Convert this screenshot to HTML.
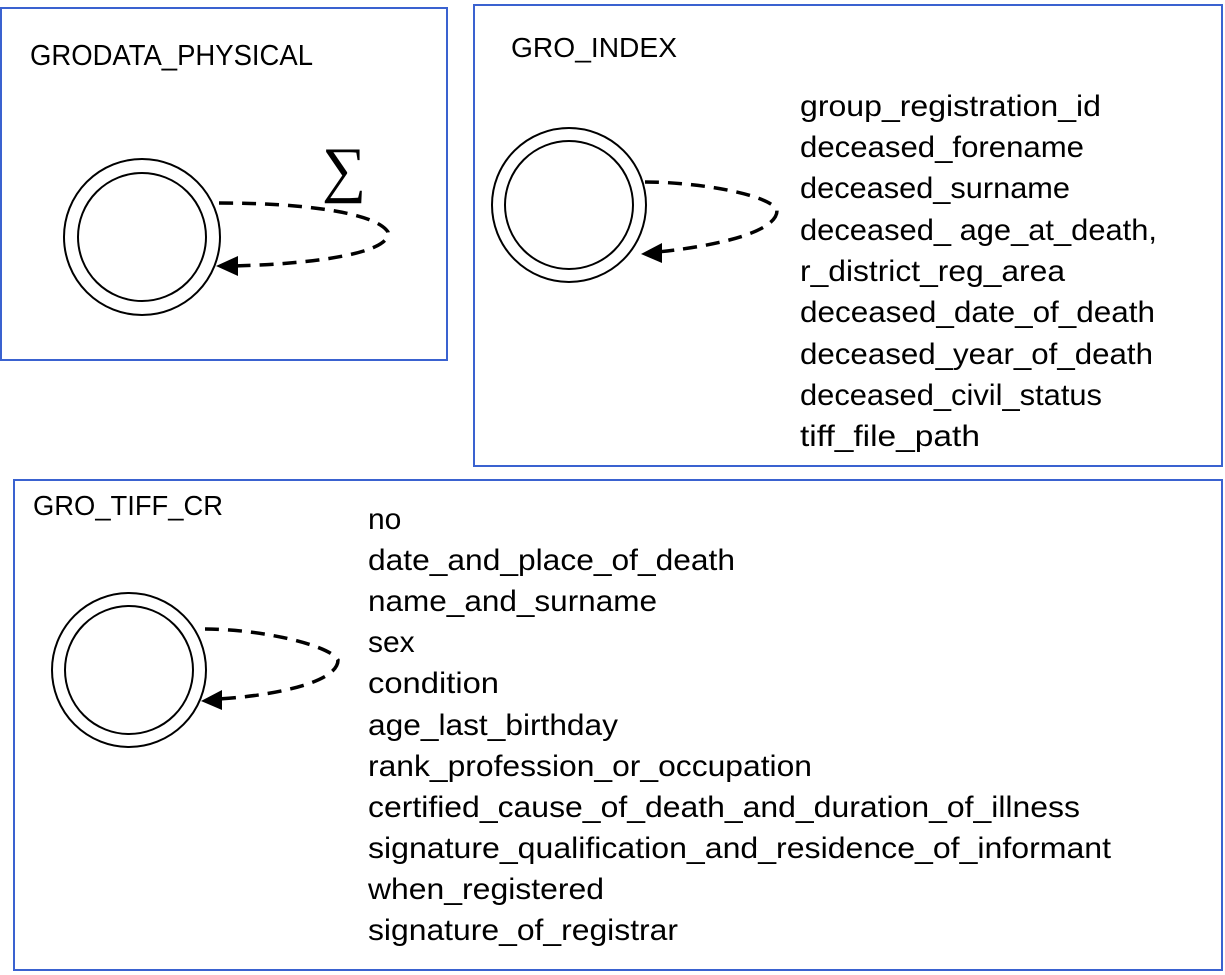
<!DOCTYPE html>
<html><head><meta charset="utf-8"><style>
html,body{margin:0;padding:0;background:#fff;}
svg{display:block;}
text{font-family:"Liberation Sans",sans-serif;fill:#000;}
</style></head><body>
<svg width="1225" height="975" viewBox="0 0 1225 975" xmlns="http://www.w3.org/2000/svg">
<defs>
<marker id="ah" markerWidth="10" markerHeight="10" refX="2" refY="5" orient="auto" markerUnits="userSpaceOnUse" viewBox="0 0 10 10">
<path d="M0,5 L10,0 L10,10 Z" fill="#000"/>
</marker>
</defs>
<g fill="none" stroke="#3a62d0" stroke-width="2">
<rect x="1" y="8" width="446" height="352"/>
<rect x="474" y="5" width="748" height="461"/>
<rect x="14" y="480" width="1208" height="490"/>
</g>
<!-- box1 -->
<text x="30" y="65" font-size="29" textLength="283" lengthAdjust="spacingAndGlyphs">GRODATA_PHYSICAL</text>
<text x="322" y="190" font-size="62" style="font-family:'Liberation Serif',serif">∑</text>
<circle cx="142" cy="237" r="78" fill="none" stroke="#000" stroke-width="2"/>
<circle cx="142" cy="237" r="64" fill="none" stroke="#000" stroke-width="2"/>
<path d="M219,203 C300,203 375,212 388,232 C392,255 300,265 228,266" fill="none" stroke="#000" stroke-width="3.5" stroke-dasharray="14,9"/>
<path d="M216,266 L238,256 L238,276 Z" fill="#000"/>
<!-- box2 -->
<text x="511" y="57" font-size="28" textLength="166" lengthAdjust="spacingAndGlyphs">GRO_INDEX</text>
<circle cx="569" cy="205" r="77" fill="none" stroke="#000" stroke-width="2"/>
<circle cx="569" cy="205" r="64" fill="none" stroke="#000" stroke-width="2"/>
<path d="M645,182 C700,182 770,195 777,210 C778,235 700,248 657,252" fill="none" stroke="#000" stroke-width="3.5" stroke-dasharray="14,9"/>
<path d="M641,254 L662,243 L662,263 Z" fill="#000"/>
<g font-size="30">
<text x="800" y="116" textLength="301" lengthAdjust="spacingAndGlyphs">group_registration_id</text>
<text x="800" y="157" textLength="284" lengthAdjust="spacingAndGlyphs">deceased_forename</text>
<text x="800" y="198" textLength="270" lengthAdjust="spacingAndGlyphs">deceased_surname</text>
<text x="800" y="240" textLength="357" lengthAdjust="spacingAndGlyphs">deceased_ age_at_death,</text>
<text x="800" y="281" textLength="265" lengthAdjust="spacingAndGlyphs">r_district_reg_area</text>
<text x="800" y="322" textLength="355" lengthAdjust="spacingAndGlyphs">deceased_date_of_death</text>
<text x="800" y="364" textLength="353" lengthAdjust="spacingAndGlyphs">deceased_year_of_death</text>
<text x="800" y="405" textLength="302" lengthAdjust="spacingAndGlyphs">deceased_civil_status</text>
<text x="800" y="446" textLength="180" lengthAdjust="spacingAndGlyphs">tiff_file_path</text>
</g>
<!-- box3 -->
<text x="33" y="515" font-size="28" textLength="190" lengthAdjust="spacingAndGlyphs">GRO_TIFF_CR</text>
<circle cx="129" cy="670" r="77" fill="none" stroke="#000" stroke-width="2"/>
<circle cx="129" cy="670" r="64" fill="none" stroke="#000" stroke-width="2"/>
<path d="M205,629 C260,629 330,645 338,660 C338,685 260,697 217,699" fill="none" stroke="#000" stroke-width="3.5" stroke-dasharray="14,9"/>
<path d="M201,701 L222,690 L222,710 Z" fill="#000"/>
<g font-size="30">
<text x="368" y="529">no</text>
<text x="368" y="570" textLength="367" lengthAdjust="spacingAndGlyphs">date_and_place_of_death</text>
<text x="368" y="611" textLength="289" lengthAdjust="spacingAndGlyphs">name_and_surname</text>
<text x="368" y="652">sex</text>
<text x="368" y="693" textLength="131" lengthAdjust="spacingAndGlyphs">condition</text>
<text x="368" y="735" textLength="250" lengthAdjust="spacingAndGlyphs">age_last_birthday</text>
<text x="368" y="776" textLength="444" lengthAdjust="spacingAndGlyphs">rank_profession_or_occupation</text>
<text x="368" y="817" textLength="712" lengthAdjust="spacingAndGlyphs">certified_cause_of_death_and_duration_of_illness</text>
<text x="368" y="858" textLength="743" lengthAdjust="spacingAndGlyphs">signature_qualification_and_residence_of_informant</text>
<text x="368" y="899" textLength="236" lengthAdjust="spacingAndGlyphs">when_registered</text>
<text x="368" y="940" textLength="310" lengthAdjust="spacingAndGlyphs">signature_of_registrar</text>
</g>
</svg>
</body></html>
